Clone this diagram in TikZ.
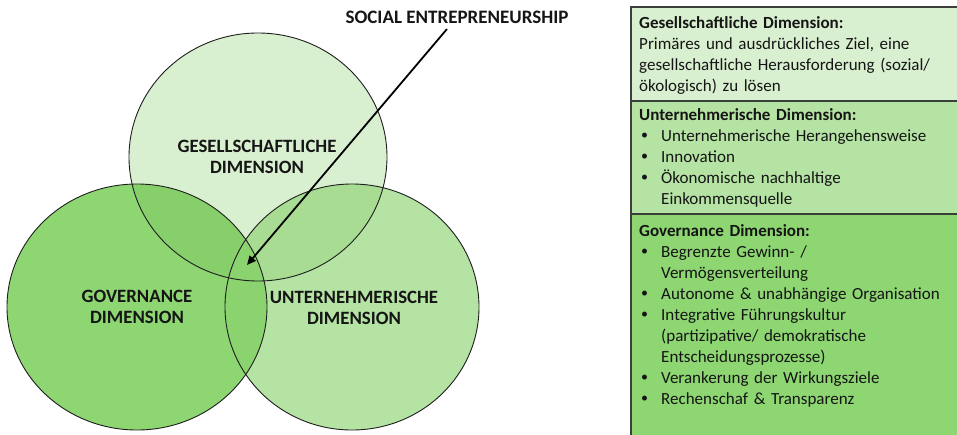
\documentclass[tikz,border=0pt]{standalone}
\usepackage{fontspec}
\setmainfont{Carlito}
\usetikzlibrary{arrows.meta}
\definecolor{gTop}{HTML}{D9F0D0}
\definecolor{gRight}{HTML}{B5E3A3}
\definecolor{gLeft}{HTML}{8DD672}
\definecolor{gTL}{HTML}{86CF6B}
\definecolor{gTR}{HTML}{A8DC92}
\definecolor{gLR}{HTML}{8AD36F}
\definecolor{lineC}{HTML}{1E1E1E}
\definecolor{boxLine}{HTML}{3A3F3A}
\definecolor{txt}{HTML}{151515}
\newcommand{\bul}{\hspace*{2pt}\makebox[20pt][l]{\raisebox{1.2pt}{\fontsize{14}{14}\selectfont\textbullet}}}
\newcommand{\cont}{\hspace*{22pt}}
\begin{document}
\begin{tikzpicture}[x=1pt,y=-1pt,
  vlabel/.style={font=\fontsize{18.8}{21}\selectfont\bfseries, text=txt, align=center, inner sep=0pt},
  boxtext/.style={font=\fontsize{17}{21}\selectfont, text=txt, text width=330pt, align=left, inner sep=0pt, anchor=base west},
  boxfill/.style={draw=boxLine, line width=1.4pt},
  circ/.style={draw=lineC, line width=0.9pt}]
\useasboundingbox (0,0) rectangle (957,434);
\clip (0,0) rectangle (957,434);
% Venn fills
\fill[gLeft] (137,307) ellipse [x radius=130pt, y radius=123pt];
\fill[gRight] (352,307) ellipse [x radius=127pt, y radius=123pt];
\fill[gTop] (258,157) ellipse [x radius=129pt, y radius=124pt];
\begin{scope}
  \clip (258,157) ellipse [x radius=129pt, y radius=124pt];
  \fill[gTL] (137,307) ellipse [x radius=130pt, y radius=123pt];
  \fill[gTR] (352,307) ellipse [x radius=127pt, y radius=123pt];
\end{scope}
\begin{scope}
  \clip (137,307) ellipse [x radius=130pt, y radius=123pt];
  \fill[gLR] (352,307) ellipse [x radius=127pt, y radius=123pt];
\end{scope}
% outlines
\draw[circ] (258,157) ellipse [x radius=129pt, y radius=124pt];
\draw[circ] (137,307) ellipse [x radius=130pt, y radius=123pt];
\draw[circ] (352,307) ellipse [x radius=127pt, y radius=123pt];
% labels
\node[vlabel] (ges) at (257,157) {GESELLSCHAFTLICHE\\DIMENSION};
\node[vlabel] (gov) at (137,307) {GOVERNANCE\\DIMENSION};
\node[vlabel] (unt) at (354,308) {UNTERNEHMERISCHE\\DIMENSION};
\node[font=\fontsize{19}{21}\selectfont\bfseries, text=txt, inner sep=0pt] (se) at (457,17) {SOCIAL ENTREPRENEURSHIP};
\coordinate (seStart) at (447,29);
\coordinate (seTip) at (247,265);
\draw[line width=1.8pt, -{Triangle[length=9pt,width=8pt]}] (seStart) -- (seTip);
% boxes
\filldraw[boxfill, fill=gTop] (631,7) rectangle (965,101);
\filldraw[boxfill, fill=gRight] (631,101) rectangle (965,214);
\filldraw[boxfill, fill=gLeft] (631,214) rectangle (965,440);
\node[boxtext] (b1) at (639,28) {\textbf{Gesellschaftliche Dimension:}\\
Primäres und ausdrückliches Ziel, eine\\
gesellschaftliche Herausforderung (sozial/\\
ökologisch) zu lösen};
\node[boxtext] (b2) at (639,120) {\textbf{Unternehmerische Dimension:}\\
\bul Unternehmerische Herangehensweise\\
\bul Innovation\\
\bul Ökonomische nachhaltige\\
\cont Einkommensquelle};
\node[boxtext] (b3) at (639,236) {\textbf{Governance Dimension:}\\
\bul Begrenzte Gewinn- /\\
\cont Vermögensverteilung\\
\bul Autonome \& unabhängige Organisation\\
\bul Integrative Führungskultur\\
\cont (partizipative/ demokratische\\
\cont Entscheidungsprozesse)\\
\bul Verankerung der Wirkungsziele\\
\bul Rechenschaf \& Transparenz};
\end{tikzpicture}
\end{document}
